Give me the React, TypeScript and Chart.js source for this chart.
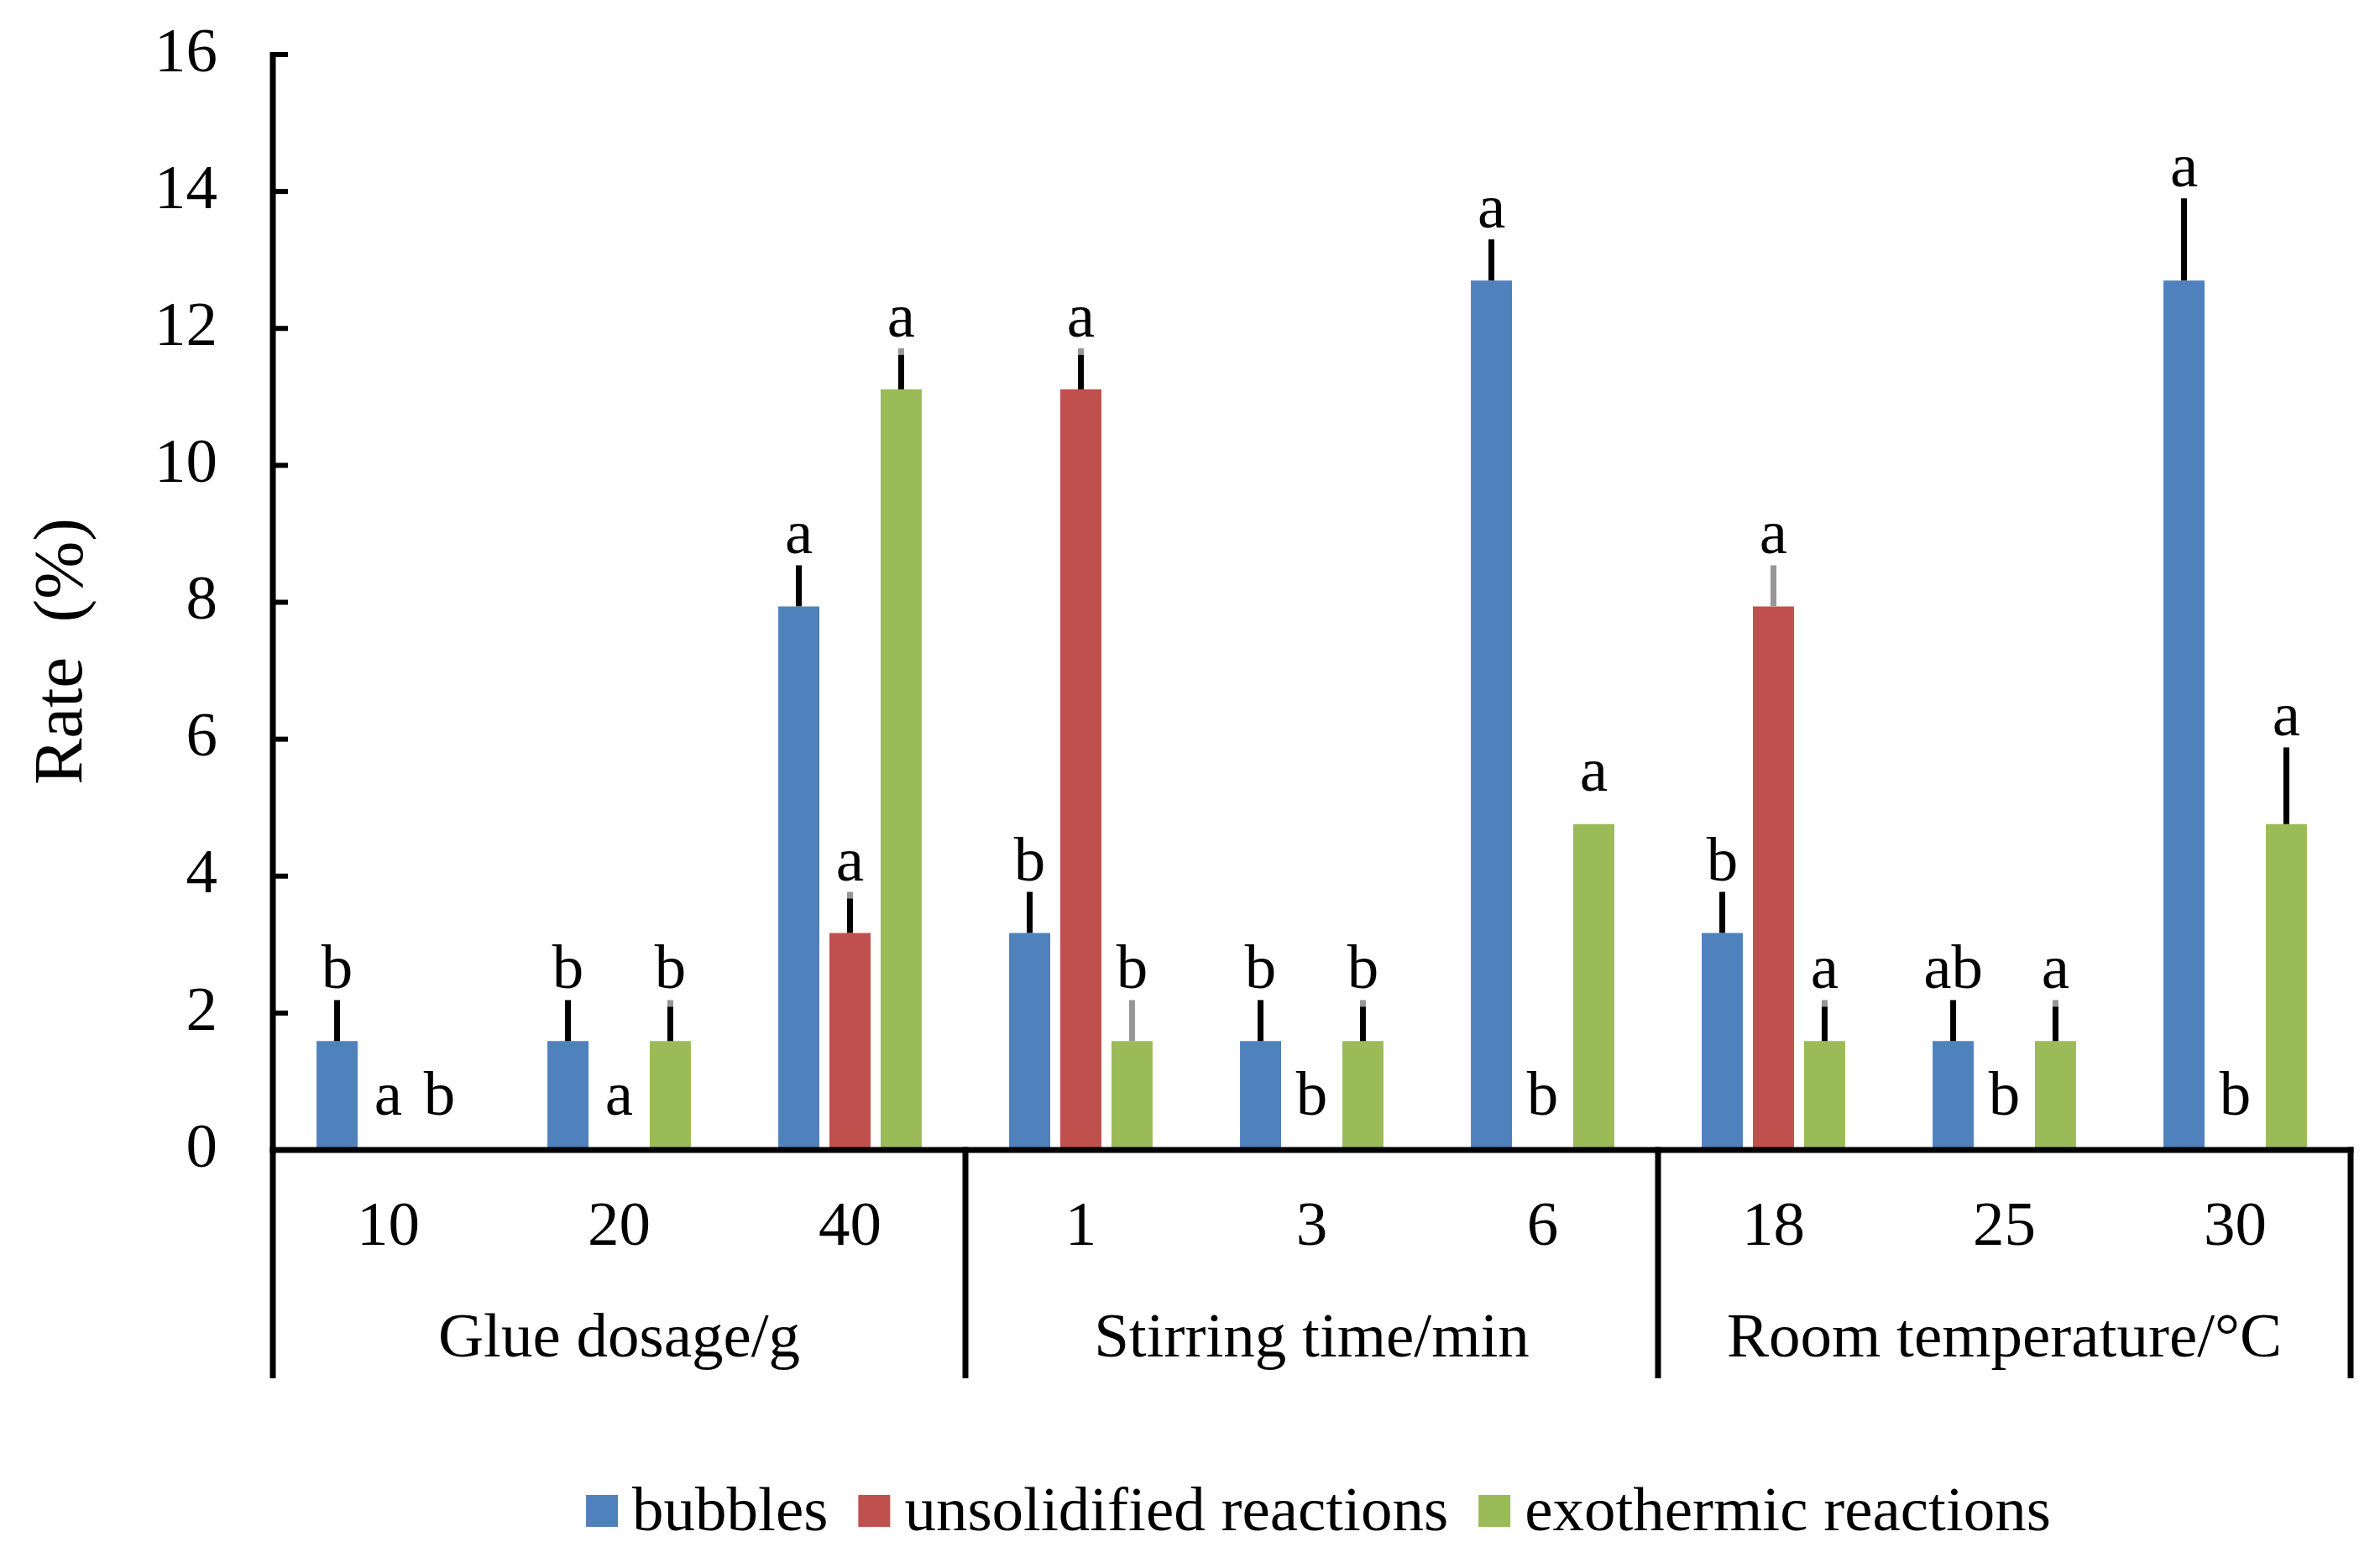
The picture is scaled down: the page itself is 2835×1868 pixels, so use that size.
import React, { useEffect, useRef } from 'react';
import { Chart, registerables } from 'chart.js';

Chart.register(...registerables);

// ---------- data ----------
const categories = ['10', '20', '40', '1', '3', '6', '18', '25', '30'];
const groups = ['Glue dosage/g', 'Stirring time/min', 'Room temperature/°C'];
const groupSizes = [3, 3, 3];
const seriesNames = ['bubbles', 'unsolidified reactions', 'exothermic reactions'];

const bubbles = [1.59, 1.59, 7.94, 3.17, 1.59, 12.7, 3.17, 1.59, 12.7];
const unsolidified = [0, 0, 3.17, 11.11, 0, 0, 7.94, 0, 0];
const exothermic = [0, 1.59, 11.11, 1.59, 1.59, 4.76, 1.59, 1.59, 4.76];

const bubblesErr = [0.6, 0.6, 0.6, 0.6, 0.6, 0.6, 0.6, 0.6, 1.2];
const unsolidifiedErr = [0, 0, 0.6, 0.6, 0, 0, 0.6, 0, 0];
const exothermicErr = [0, 0.6, 0.6, 0.6, 0.6, 0, 0.6, 0.6, 1.12];

// k = black, g = gray, m = black with gray tip
const bubblesErrColor = ['k', 'k', 'k', 'k', 'k', 'k', 'k', 'k', 'k'];
const unsolidifiedErrColor = ['k', 'k', 'm', 'm', 'k', 'k', 'g', 'k', 'k'];
const exothermicErrColor = ['k', 'm', 'm', 'g', 'm', 'k', 'm', 'm', 'k'];

const bubblesLetters = ['b', 'b', 'a', 'b', 'b', 'a', 'b', 'ab', 'a'];
const unsolidifiedLetters = ['a', 'a', 'a', 'a', 'b', 'b', 'a', 'b', 'b'];
const exothermicLetters = ['b', 'b', 'a', 'b', 'b', 'a', 'a', 'a', 'a'];

const yTicksMax = 16;
const yTickStep = 2;
const yTitle = 'Rate  (%)';

const colors = ['#4F81BD', '#C0504D', '#9BBB59'];

const values = [bubbles, unsolidified, exothermic];
const errors = [bubblesErr, unsolidifiedErr, exothermicErr];
const errColors = [bubblesErrColor, unsolidifiedErrColor, exothermicErrColor];
const letters = [bubblesLetters, unsolidifiedLetters, exothermicLetters];

const FONT = '"Liberation Serif", "Times New Roman", Tinos, "DejaVu Serif", serif';
const W = 2835;
const H = 1868;

const overlay = {
  id: 'overlay',
  afterDatasetsDraw(chart: any) {
    const ctx: CanvasRenderingContext2D = chart.ctx;
    const xs = chart.scales.x;
    const ys = chart.scales.y;
    const area = chart.chartArea;
    const zeroY = ys.getPixelForValue(0);
    const bottomY = 1642;
    ctx.save();

    // error bars
    ctx.lineCap = 'butt';
    values.forEach((vals, i) => {
      const meta = chart.getDatasetMeta(i);
      vals.forEach((v, j) => {
        const e = errors[i][j];
        if (!e) return;
        const bar = meta.data[j];
        const x = bar.x;
        const yBar = ys.getPixelForValue(v);
        const yTop = ys.getPixelForValue(v + e);
        const c = errColors[i][j];
        ctx.lineWidth = 7;
        if (c === 'g') {
          ctx.strokeStyle = '#969696';
          ctx.beginPath(); ctx.moveTo(x, yBar); ctx.lineTo(x, yTop); ctx.stroke();
        } else if (c === 'm') {
          ctx.strokeStyle = '#969696';
          ctx.beginPath(); ctx.moveTo(x, yTop + 9); ctx.lineTo(x, yTop); ctx.stroke();
          ctx.strokeStyle = '#000';
          ctx.beginPath(); ctx.moveTo(x, yBar); ctx.lineTo(x, yTop + 8); ctx.stroke();
        } else {
          ctx.strokeStyle = '#000';
          ctx.beginPath(); ctx.moveTo(x, yBar); ctx.lineTo(x, yTop); ctx.stroke();
        }
      });
    });

    // significance letters
    ctx.fillStyle = '#000';
    ctx.font = `75px ${FONT}`;
    ctx.textAlign = 'center';
    ctx.textBaseline = 'alphabetic';
    values.forEach((vals, i) => {
      const meta = chart.getDatasetMeta(i);
      vals.forEach((v, j) => {
        const t = letters[i][j];
        if (!t) return;
        const x = meta.data[j].x;
        const e = errors[i][j];
        let y: number;
        if (v === 0) y = zeroY - 42;
        else if (!e) y = ys.getPixelForValue(v) - 40;
        else y = ys.getPixelForValue(v + e) - 14;
        ctx.fillText(t, x, y);
      });
    });

    // axes lines
    ctx.strokeStyle = '#000';
    ctx.lineWidth = 7;
    ctx.beginPath();
    ctx.moveTo(area.left, ys.getPixelForValue(yTicksMax) - 3);
    ctx.lineTo(area.left, bottomY);
    ctx.stroke();
    ctx.beginPath();
    ctx.moveTo(area.left - 3.5, zeroY);
    ctx.lineTo(area.right + 3.5, zeroY);
    ctx.stroke();
    const step = (area.right - area.left) / categories.length;
    let acc = 0;
    groupSizes.forEach((n) => {
      acc += n;
      const bx = area.left + acc * step;
      ctx.beginPath();
      ctx.moveTo(bx, zeroY - 3.5);
      ctx.lineTo(bx, bottomY);
      ctx.stroke();
    });
    // inside tick marks
    ctx.lineWidth = 6;
    ys.ticks.forEach((t: any) => {
      const y = ys.getPixelForValue(t.value);
      ctx.beginPath();
      ctx.moveTo(area.left, y);
      ctx.lineTo(area.left + 18, y);
      ctx.stroke();
    });

    // category labels
    ctx.font = `75px ${FONT}`;
    ctx.textAlign = 'center';
    categories.forEach((c, j) => {
      ctx.fillText(c, xs.getPixelForValue(j), 1483);
    });
    // group labels
    let start = 0;
    groups.forEach((g, k) => {
      const x0 = area.left + start * step;
      const x1 = area.left + (start + groupSizes[k]) * step;
      ctx.fillText(g, (x0 + x1) / 2, 1616);
      start += groupSizes[k];
    });

    // y title
    ctx.save();
    ctx.font = `83px ${FONT}`;
    ctx.translate(97, 776);
    ctx.rotate(-Math.PI / 2);
    ctx.textAlign = 'center';
    ctx.fillText(yTitle, 0, 0);
    ctx.restore();

    // legend
    ctx.font = `75px ${FONT}`;
    ctx.textAlign = 'left';
    const box = 38, gapBT = 17, gapItem = 36;
    const widths = chart.data.datasets.map((d: any) => ctx.measureText(d.label).width);
    const total = widths.reduce((a: number, b: number) => a + b, 0) + chart.data.datasets.length * (box + gapBT) + gapItem * (chart.data.datasets.length - 1);
    let lx = (area.left + area.right) / 2 + 8 - total / 2;
    chart.data.datasets.forEach((d: any, i: number) => {
      ctx.fillStyle = d.backgroundColor;
      ctx.fillRect(lx, 1781, box, box);
      ctx.fillStyle = '#000';
      ctx.fillText(d.label, lx + box + gapBT, 1823);
      lx += box + gapBT + widths[i] + gapItem;
    });

    ctx.restore();
  },
};

export default function App() {
  const ref = useRef<HTMLCanvasElement | null>(null);
  useEffect(() => {
    let chart: any = null;
    let cancelled = false;
    const make = () => {
      if (cancelled || !ref.current) return;
      chart = new Chart(ref.current, {
        type: 'bar',
        data: {
          labels: categories,
          datasets: values.map((v, i) => ({
            label: seriesNames[i],
            data: v,
            backgroundColor: colors[i],
            borderWidth: 0,
            barPercentage: 0.803,
            categoryPercentage: 0.665,
          })),
        },
        options: {
          responsive: false,
          devicePixelRatio: 1,
          animation: false,
          layout: { padding: { left: 0, top: 65, right: W - 2800, bottom: H - 1370 } },
          plugins: { legend: { display: false }, tooltip: { enabled: false } },
          scales: {
            x: { display: false },
            y: {
              min: 0,
              max: yTicksMax,
              ticks: {
                stepSize: yTickStep,
                color: '#000',
                padding: 66,
                font: { family: FONT, size: 75 },
              },
              grid: { display: false, drawTicks: false, tickLength: 0 },
              border: { display: false },
              afterFit: (s: any) => {
                s.width = 325;
                s.paddingTop = 0;
                s.paddingBottom = 0;
              },
            },
          },
        },
        plugins: [overlay],
      } as any);
    };
    const fonts: any = (document as any).fonts;
    if (fonts && fonts.load) {
      Promise.all([
        fonts.load('75px "Liberation Serif"'),
        fonts.load('83px "Liberation Serif"'),
      ]).then(make, make);
    } else {
      make();
    }
    return () => {
      cancelled = true;
      if (chart) chart.destroy();
    };
  }, []);
  return (
    <>
      <span style={{ fontFamily: '"Liberation Serif"', position: 'absolute', visibility: 'hidden' }}>ab</span>
      <canvas
        ref={ref}
        width={W}
        height={H}
        style={{ position: 'fixed', left: 0, top: 0, width: W, height: H, background: '#fff' }}
      />
    </>
  );
}
